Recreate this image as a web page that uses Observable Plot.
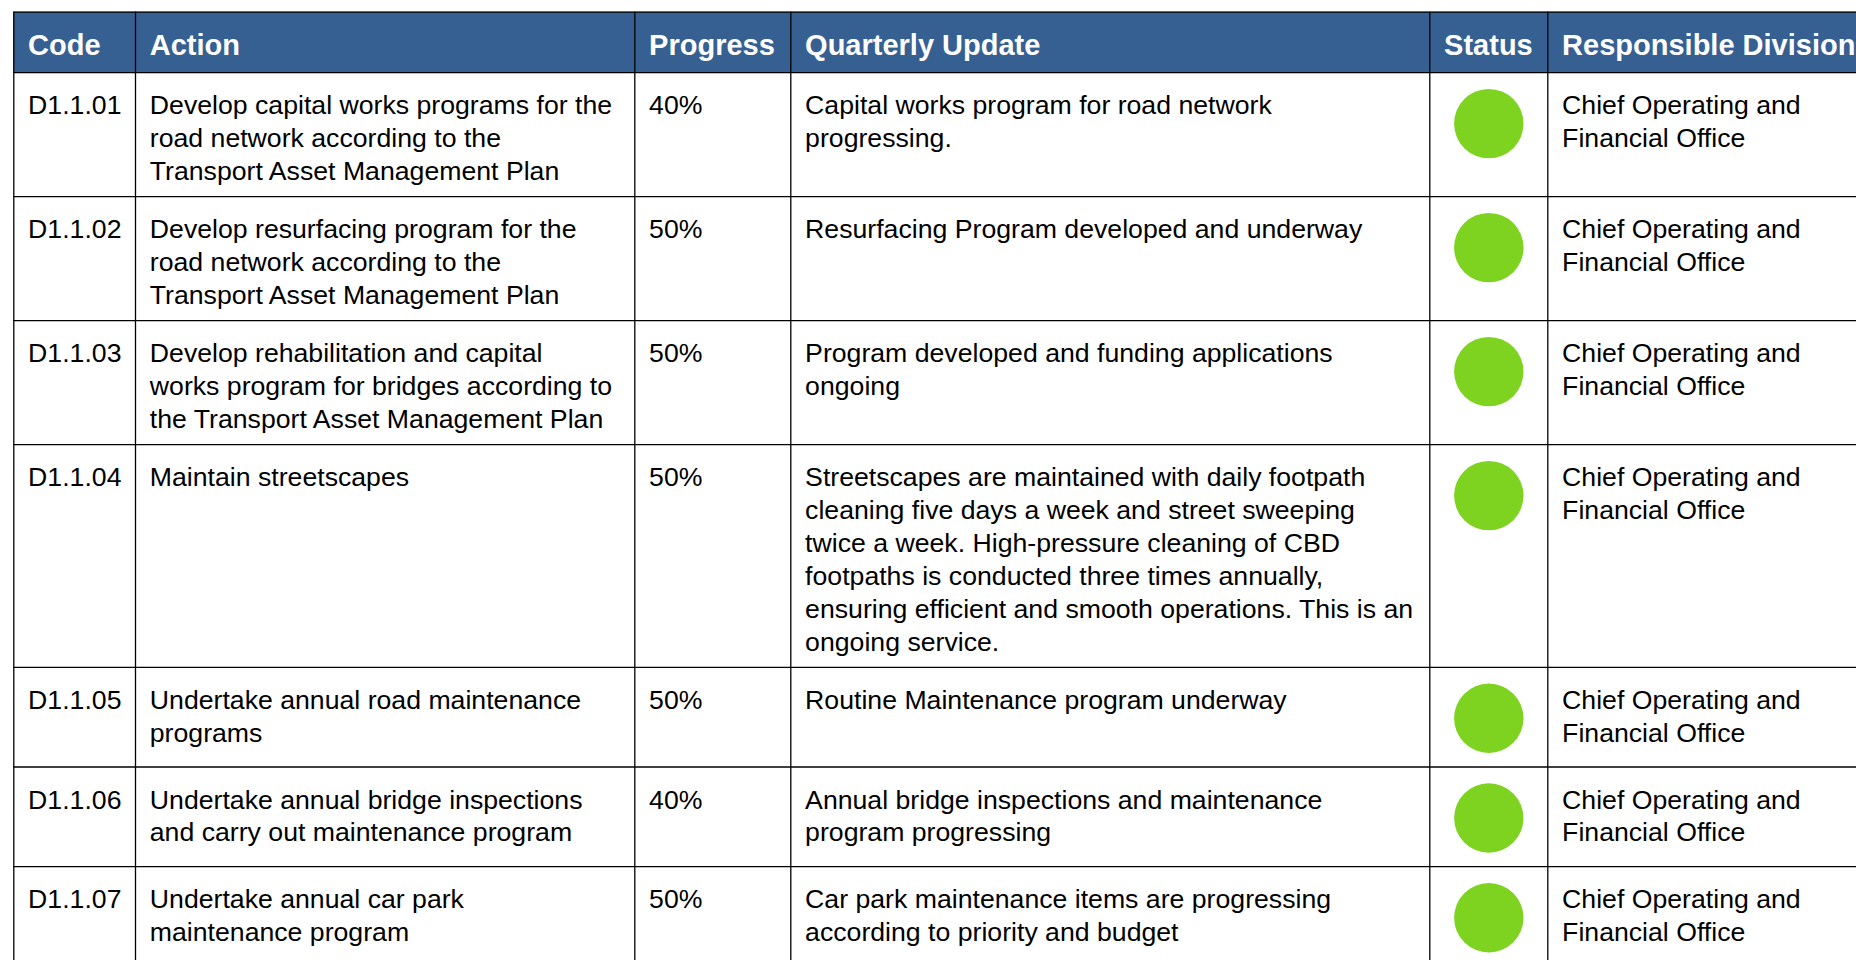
<!DOCTYPE html>
<html>
<head>
<meta charset="utf-8">
<script src="https://cdn.jsdelivr.net/npm/d3@7"></script>
<script src="https://cdn.jsdelivr.net/npm/@observablehq/plot@0.6"></script>
<style>
  html, body { margin: 0; padding: 0; background: #fff; overflow: hidden; }
  #chart svg { display: block; }
</style>
</head>
<body>
<div id="chart"></div>
<script>
// ---------- data ----------
const headers = ["Code", "Action", "Progress", "Quarterly Update", "Status", "Responsible Division"];
const codes = ["D1.1.01", "D1.1.02", "D1.1.03", "D1.1.04", "D1.1.05", "D1.1.06", "D1.1.07"];
const actions = [
  "Develop capital works programs for the\nroad network according to the\nTransport Asset Management Plan",
  "Develop resurfacing program for the\nroad network according to the\nTransport Asset Management Plan",
  "Develop rehabilitation and capital\nworks program for bridges according to\nthe Transport Asset Management Plan",
  "Maintain streetscapes",
  "Undertake annual road maintenance\nprograms",
  "Undertake annual bridge inspections\nand carry out maintenance program",
  "Undertake annual car park\nmaintenance program"
];
const progress = [40, 50, 50, 50, 50, 40, 50];
const updates = [
  "Capital works program for road network\nprogressing.",
  "Resurfacing Program developed and underway",
  "Program developed and funding applications\nongoing",
  "Streetscapes are maintained with daily footpath\ncleaning five days a week and street sweeping\ntwice a week. High-pressure cleaning of CBD\nfootpaths is conducted three times annually,\nensuring efficient and smooth operations. This is an\nongoing service.",
  "Routine Maintenance program underway",
  "Annual bridge inspections and maintenance\nprogram progressing",
  "Car park maintenance items are progressing\naccording to priority and budget"
];
const statuses = ["On track", "On track", "On track", "On track", "On track", "On track", "On track"];
const divisions = [
  "Chief Operating and\nFinancial Office",
  "Chief Operating and\nFinancial Office",
  "Chief Operating and\nFinancial Office",
  "Chief Operating and\nFinancial Office",
  "Chief Operating and\nFinancial Office",
  "Chief Operating and\nFinancial Office",
  "Chief Operating and\nFinancial Office"
];
const statusColors = {"On track": "#7ed321"};

// ---------- layout (sizes & styles) ----------
const W = 1856, H = 960;
const L = {
  left: 13.3, top: 11.7, headerH: 60.4,
  colWidths: [121.7, 499.3, 156, 639, 118, 420],
  pad: 14.3,
  fsBody: 26.67, fsHead: 29,
  lineH: 32.9, rowPad: 25.3, minRowH: 99.7,
  baseline: 41.5, headBaseline: 42.6,
  dotR: 34.7, dotOffset: 51
};
const font = "Arial, 'Liberation Sans', Helvetica, sans-serif";

const colX = [L.left];
L.colWidths.forEach(w => colX.push(colX[colX.length - 1] + w));

const headerBottom = L.top + L.headerH;
const rows = [];
let yCursor = headerBottom;
codes.forEach((code, i) => {
  const cells = [code, actions[i], `${progress[i]}%`, updates[i], "", divisions[i]];
  const n = d3.max(cells, c => c.split("\n").length);
  const h = Math.max(n * L.lineH + L.rowPad, L.minRowH);
  rows.push({i, cells, status: statuses[i], y0: yCursor, y1: yCursor + h});
  yCursor += h;
});

const firstLineShift = 0.71 * L.lineH;
const bodyText = rows.flatMap(r => r.cells.map((t, c) => ({
  x: colX[c] + L.pad, y: r.y0 + L.baseline - firstLineShift, text: t
})).filter(d => d.text));
const headText = headers.map((t, c) => ({
  x: colX[c] + L.pad, y: L.top + L.headBaseline - 0.71 * L.fsHead, text: t
}));
const dots = rows.map(r => ({
  x: (colX[4] + colX[5]) / 2, y: r.y0 + L.dotOffset, status: r.status
}));
const hLines = [L.top, headerBottom, ...rows.map(r => r.y1)];
const vLines = colX.slice(0, 6);
const tableBottom = rows[rows.length - 1].y1;

const chart = Plot.plot({
  width: W, height: H,
  margin: 0,
  x: {type: "linear", domain: [0, W], range: [0, W], axis: null},
  y: {type: "linear", domain: [0, H], range: [0, H], axis: null},
  style: {background: "#fff"},
  marks: [
    Plot.rect([0], {x1: L.left, x2: colX[6], y1: L.top, y2: headerBottom, fill: "#376092"}),
    Plot.ruleY(hLines, {y: d => d, x1: L.left, x2: colX[6], stroke: "#000", strokeWidth: 1.3}),
    Plot.ruleX(vLines, {x: d => d, y1: L.top, y2: tableBottom, stroke: "#000", strokeWidth: 1.3}),
    Plot.text(headText, {
      x: "x", y: "y", text: "text", textAnchor: "start", lineAnchor: "top", lineHeight: 1,
      fill: "#fff", fontWeight: "bold", fontSize: L.fsHead, fontFamily: font
    }),
    Plot.text(bodyText, {
      x: "x", y: "y", text: "text", textAnchor: "start", lineAnchor: "top",
      lineHeight: L.lineH / L.fsBody,
      fill: "#000", fontSize: L.fsBody, fontFamily: font
    }),
    Plot.dot(dots, {x: "x", y: "y", r: L.dotR, fill: d => statusColors[d.status], stroke: "none"})
  ]
});
document.getElementById("chart").append(chart);
</script>
</body>
</html>
